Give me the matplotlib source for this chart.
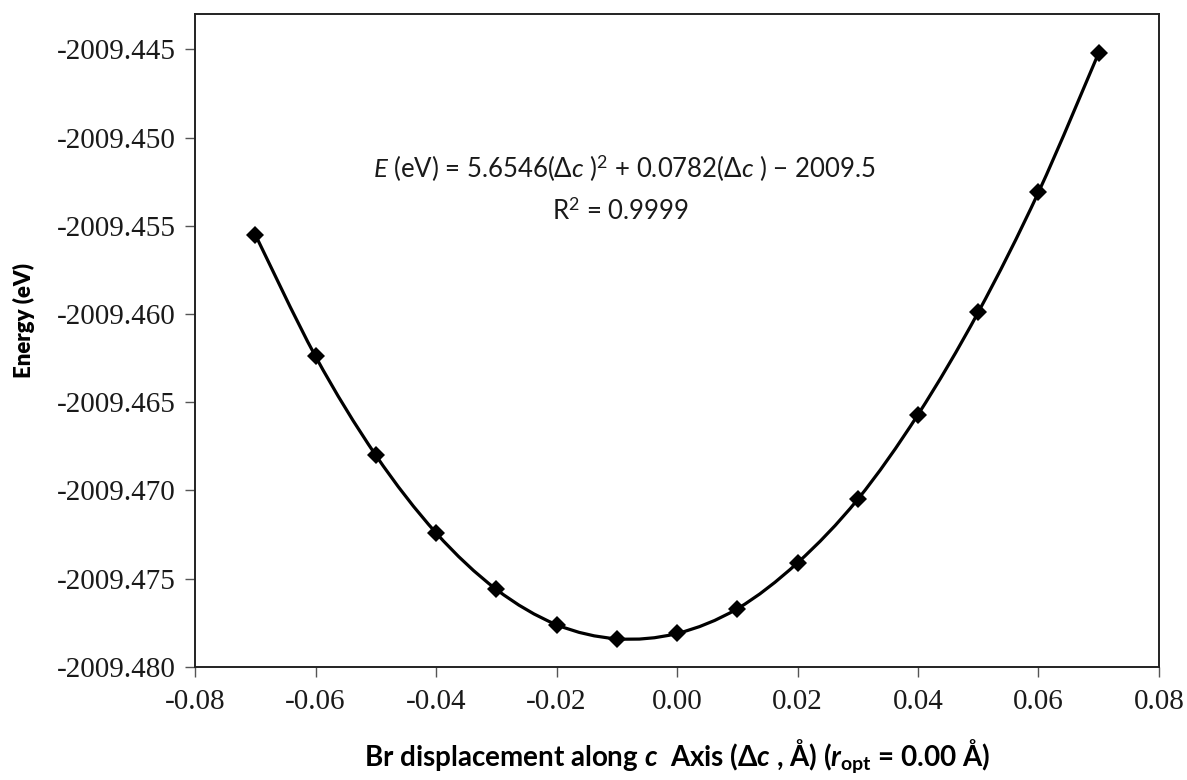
import numpy as np
import matplotlib
matplotlib.use("Agg")
import matplotlib.pyplot as plt
from matplotlib.path import Path
from matplotlib.patches import PathPatch

# ---- data ----
displacement = [-0.07, -0.06, -0.05, -0.04, -0.03, -0.02, -0.01, 0.00,
                0.01, 0.02, 0.03, 0.04, 0.05, 0.06, 0.07]
energy = [-2009.4555, -2009.4624, -2009.4680, -2009.4724, -2009.4756,
          -2009.4776, -2009.4784, -2009.4781, -2009.4767, -2009.4741,
          -2009.4705, -2009.4657, -2009.4599, -2009.4531, -2009.4452]
x_ticks = [-0.08, -0.06, -0.04, -0.02, 0.00, 0.02, 0.04, 0.06, 0.08]
y_ticks = [-2009.480, -2009.475, -2009.470, -2009.465, -2009.460,
           -2009.455, -2009.450, -2009.445]
fit_text = "$E$ (eV) = 5.6546(Δ$c$ )$^{2}$ + 0.0782(Δ$c$ ) − 2009.5"
r2_text = "R$^{2}$ = 0.9999"
x_label = r"Br displacement along $\mathbfit{c}$  Axis (Δ$\mathbfit{c}$ , Å) ($\mathbfit{r}_{\mathbf{opt}}$ = 0.00 Å)"
y_label = "Energy (eV)"

plt.rcParams['axes.unicode_minus'] = False
plt.rcParams['mathtext.fontset'] = 'custom'
plt.rcParams['mathtext.rm'] = 'Lato'
plt.rcParams['mathtext.it'] = 'Lato:italic'
plt.rcParams['mathtext.bf'] = 'Lato:bold'
plt.rcParams['mathtext.bfit'] = 'Lato:bold:italic'

fig = plt.figure(figsize=(11.87, 7.80), dpi=100)
ax = fig.add_axes([0.1643, 0.1449, 0.8121, 0.8372])

# smooth (Excel-style Catmull-Rom) line through the data points
pts = np.column_stack([displacement, energy])
n = len(pts)
verts = [pts[0]]
codes = [Path.MOVETO]
for i in range(n - 1):
    p0 = pts[i - 1] if i > 0 else pts[i]
    p1 = pts[i]
    p2 = pts[i + 1]
    p3 = pts[i + 2] if i + 2 < n else pts[i + 1]
    c1 = p1 + (p2 - p0) / 6.0
    c2 = p2 - (p3 - p1) / 6.0
    verts += [c1, c2, p2]
    codes += [Path.CURVE4] * 3
ax.add_patch(PathPatch(Path(verts, codes), facecolor='none',
                       edgecolor='black', lw=2.3, zorder=2))

ax.plot(displacement, energy, linestyle='none', marker='D', markersize=9,
        color='black', markeredgewidth=0, zorder=3)

ax.set_xlim(-0.08, 0.08)
ax.set_ylim(-2009.480, -2009.443)
ax.set_xticks(x_ticks)
ax.set_yticks(y_ticks)
ax.set_xticklabels([f"{v:.2f}" for v in x_ticks])
ax.set_yticklabels([f"{v:.3f}" for v in y_ticks])

for lab in ax.get_xticklabels() + ax.get_yticklabels():
    lab.set_fontfamily('Liberation Serif')
    lab.set_fontsize(21)
    lab.set_color('#1a1a1a')

ax.tick_params(axis='both', direction='out', length=7, width=1.0,
               color='#555555', pad=7)
ax.tick_params(axis='x', pad=9)
for sp in ax.spines.values():
    sp.set_color('#222222')
    sp.set_linewidth(1.4)

ax.set_xlabel(x_label, fontfamily=['Lato', 'Open Sans'], fontweight='bold',
              fontsize=20)
ax.xaxis.set_label_coords(0.5, -0.107)
ax.set_ylabel(y_label, fontfamily=['Lato', 'Open Sans'], fontweight='heavy',
              fontsize=16)
ax.yaxis.set_label_coords(-0.166, 0.53)

ax.text(0.445, 0.764, fit_text, transform=ax.transAxes, ha='center',
        va='center', fontsize=18.5, fontfamily=['Lato', 'Open Sans'],
        color='#1a1a1a')
ax.text(0.441, 0.698, r2_text, transform=ax.transAxes, ha='center',
        va='center', fontsize=18.5, fontfamily=['Lato', 'Open Sans'],
        color='#1a1a1a')

fig.savefig("out.png", dpi=100)
